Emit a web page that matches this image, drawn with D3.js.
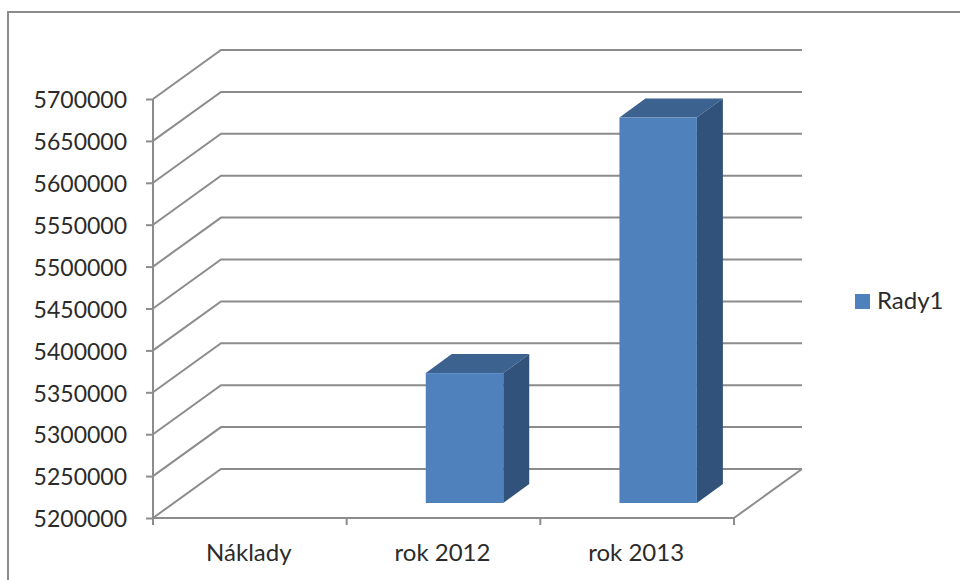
<!DOCTYPE html>
<meta charset="utf-8" />
<script src="https://d3js.org/d3.v7.min.js"></script>
<style>
  html, body { margin: 0; padding: 0; background: #fff; }
  svg { display: block; }
  text { font-family: Lato, "Open Sans", sans-serif; fill: #2b2b2b; }
</style>
<div id="chart"></div>
<script>
  const categories = ["Náklady", "rok 2012", "rok 2013"];
  const values = [5200000, 5355000, 5660000];
  const seriesName = "Rady1";
  const yTicks = [5200000, 5250000, 5300000, 5350000, 5400000, 5450000, 5500000, 5550000, 5600000, 5650000, 5700000];

  const width = 960, height = 580;
  const gridColor = "#8c8c8c";
  // floor depth of the 3d box
  const depthX = 68, depthY = 49;
  // depth of one bar and how far it sits from the front edge
  const barDepthX = 26, barDepthY = 19, barShiftX = 21, barShiftY = 15;

  const svg = d3.select("#chart").append("svg")
    .attr("width", width)
    .attr("height", height);

  // outer chart frame, cut off by the screenshot on the right and bottom
  svg.append("path")
    .attr("d", d3.line()([[8, height], [8, 12], [width, 12]]))
    .attr("fill", "none")
    .attr("stroke", gridColor)
    .attr("stroke-width", 2);

  const x = d3.scaleBand().domain(categories).range([153, 734]);
  const y = d3.scaleLinear().domain([5200000, 5700000]).range([518, 99]);

  // wall and floor lines
  const grid = svg.append("g")
    .attr("fill", "none")
    .attr("stroke", gridColor)
    .attr("stroke-width", 2);

  grid.selectAll("path")
    .data(yTicks)
    .enter()
    .append("path")
    .attr("d", d => d3.line()([
      [x.range()[0], y(d)],
      [x.range()[0] + depthX, y(d) - depthY],
      [x.range()[1] + depthX, y(d) - depthY]
    ]));

  grid.append("path")
    .attr("d", d3.line()([
      [x.range()[1], y(yTicks[0])],
      [x.range()[1] + depthX, y(yTicks[0]) - depthY]
    ]));

  // y axis
  svg.append("g")
    .attr("transform", `translate(${x.range()[0]},0)`)
    .call(d3.axisLeft(y).tickValues(yTicks).tickFormat(d3.format("d")).tickSize(7).tickPadding(19))
    .call(g => g.selectAll("path, line").attr("stroke", gridColor).attr("stroke-width", 2))
    .call(g => g.select("path").attr("d", `M0,${y(yTicks[yTicks.length - 1])}V${y(yTicks[0]) + 7}`))
    .call(g => g.selectAll("text").style("font-size", "23px").attr("dy", "0.38em"));

  // x axis, ticks between the categories
  const xAxis = svg.append("g")
    .attr("transform", `translate(0,${y(yTicks[0])})`);

  xAxis.append("line")
    .attr("x1", x.range()[0]).attr("x2", x.range()[1])
    .attr("stroke", gridColor).attr("stroke-width", 2);

  xAxis.selectAll("line.tick")
    .data(categories)
    .enter()
    .append("line")
    .attr("class", "tick")
    .attr("x1", d => x(d) + x.bandwidth())
    .attr("x2", d => x(d) + x.bandwidth())
    .attr("y2", 7)
    .attr("stroke", gridColor).attr("stroke-width", 2);

  xAxis.selectAll("text")
    .data(categories)
    .enter()
    .append("text")
    .attr("x", d => x(d) + x.bandwidth() / 2 - 1)
    .attr("y", 43)
    .attr("text-anchor", "middle")
    .style("font-size", "24px")
    .text(d => d);

  // bars, the first one is at the axis minimum so it has no height
  const barWidth = x.bandwidth() * 0.4;
  const bars = categories
    .map((c, i) => ({ c: c, v: values[i] }))
    .filter(d => d.v > y.domain()[0]);

  const barX = d => x(d.c) + (x.bandwidth() - barWidth) / 2 + barShiftX;
  const barTop = d => y(d.v) - barShiftY;
  const barBottom = y(y.domain()[0]) - barShiftY;

  const bar = svg.selectAll("g.bar")
    .data(bars)
    .enter()
    .append("g")
    .attr("class", "bar");

  bar.append("path")
    .attr("fill", "#3c628f")
    .attr("d", d => d3.line()([
      [barX(d), barTop(d)],
      [barX(d) + barDepthX, barTop(d) - barDepthY],
      [barX(d) + barWidth + barDepthX, barTop(d) - barDepthY],
      [barX(d) + barWidth, barTop(d)]
    ]) + "Z");

  bar.append("path")
    .attr("fill", "#31527a")
    .attr("d", d => d3.line()([
      [barX(d) + barWidth, barTop(d)],
      [barX(d) + barWidth + barDepthX, barTop(d) - barDepthY],
      [barX(d) + barWidth + barDepthX, barBottom - barDepthY],
      [barX(d) + barWidth, barBottom]
    ]) + "Z");

  bar.append("rect")
    .attr("fill", "#4f81bd")
    .attr("x", barX)
    .attr("y", barTop)
    .attr("width", barWidth)
    .attr("height", d => barBottom - barTop(d));

  // legend
  const legend = svg.append("g").attr("transform", "translate(855,294)");
  legend.append("rect").attr("width", 15).attr("height", 15).attr("fill", "#4f81bd");
  legend.append("text").attr("x", 22).attr("y", 15).style("font-size", "24px").text(seriesName);
</script>
